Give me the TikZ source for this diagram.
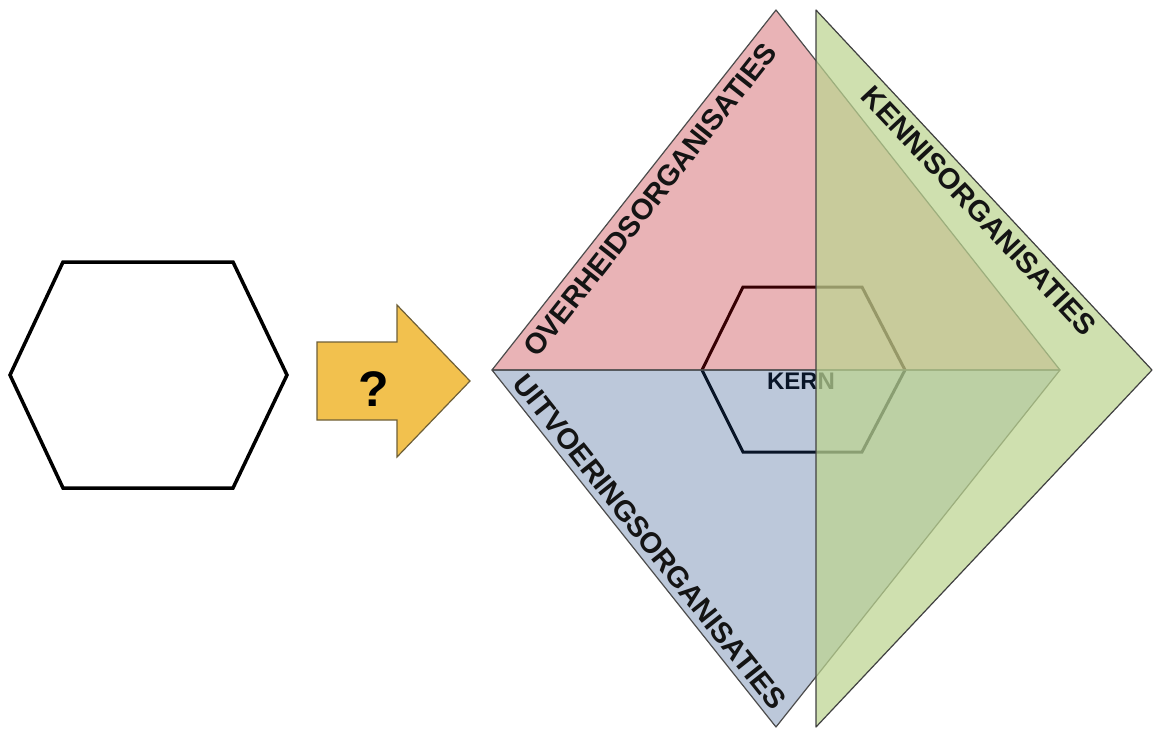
\documentclass[tikz,border=0pt]{standalone}
\usepackage{fontspec}
\setmainfont{Liberation Sans}
\definecolor{arrowyellow}{RGB}{242,193,78}
\definecolor{arrowline}{RGB}{110,95,55}
\definecolor{govred}{RGB}{182,2,12}
\definecolor{execblue}{RGB}{32,72,132}
\definecolor{knowgreen}{RGB}{188,212,144}
\begin{document}
\begin{tikzpicture}[x=1pt,y=-1pt,
  sidelabel/.style={font=\bfseries\fontsize{29}{29}\selectfont, text=black!92, inner sep=0pt},
  triedge/.style={draw=black!70, line width=1.2pt, line join=round},
]
\useasboundingbox (0,0) rectangle (1160,729);

% starting hexagon
\draw[line width=3.5pt, line join=miter]
  (10,375) -- (63,262) -- (233,262) -- (287,375) -- (233,488) -- (63,488) -- cycle;

% block arrow with question mark
\draw[fill=arrowyellow, draw=arrowline, line width=1.2pt, line join=miter]
  (317,342) -- (397,342) -- (397,305) -- (470,381) -- (397,457) -- (397,420) -- (317,420) -- cycle;
\node[font=\bfseries\fontsize{50}{50}\selectfont, inner sep=0pt] (qmark) at (374,389) {?};

% core hexagon and its label, seen through the tinted triangles
\draw[line width=3pt, line join=miter]
  (702,370) -- (743,287) -- (862,287) -- (905,370) -- (862,452) -- (743,452) -- cycle;
\node[font=\bfseries\fontsize{24}{24}\selectfont, inner sep=0pt] (kern) at (801,381) {KERN};

% government (top) and execution (bottom) triangles
\path[triedge, fill=govred, fill opacity=0.3]
  (492,370) -- (776,10) -- (1060,370) -- cycle;
\path[triedge, fill=execblue, fill opacity=0.3]
  (492,370) -- (1060,370) -- (776,727) -- cycle;

% knowledge triangle on top
\path[draw=black!75, line width=1.2pt, line join=round, fill=knowgreen, fill opacity=0.72]
  (816,10) -- (1152,370) -- (816,727) -- cycle;

% side labels
\node[sidelabel, rotate=51.7] (gov) at (650,200) {OVERHEIDSORGANISATIES};
\node[sidelabel, rotate=-51.5] (exec) at (650,542) {UITVOERINGSORGANISATIES};
\node[sidelabel, rotate=-47] (know) at (979,211) {KENNISORGANISATIES};
\end{tikzpicture}
\end{document}
